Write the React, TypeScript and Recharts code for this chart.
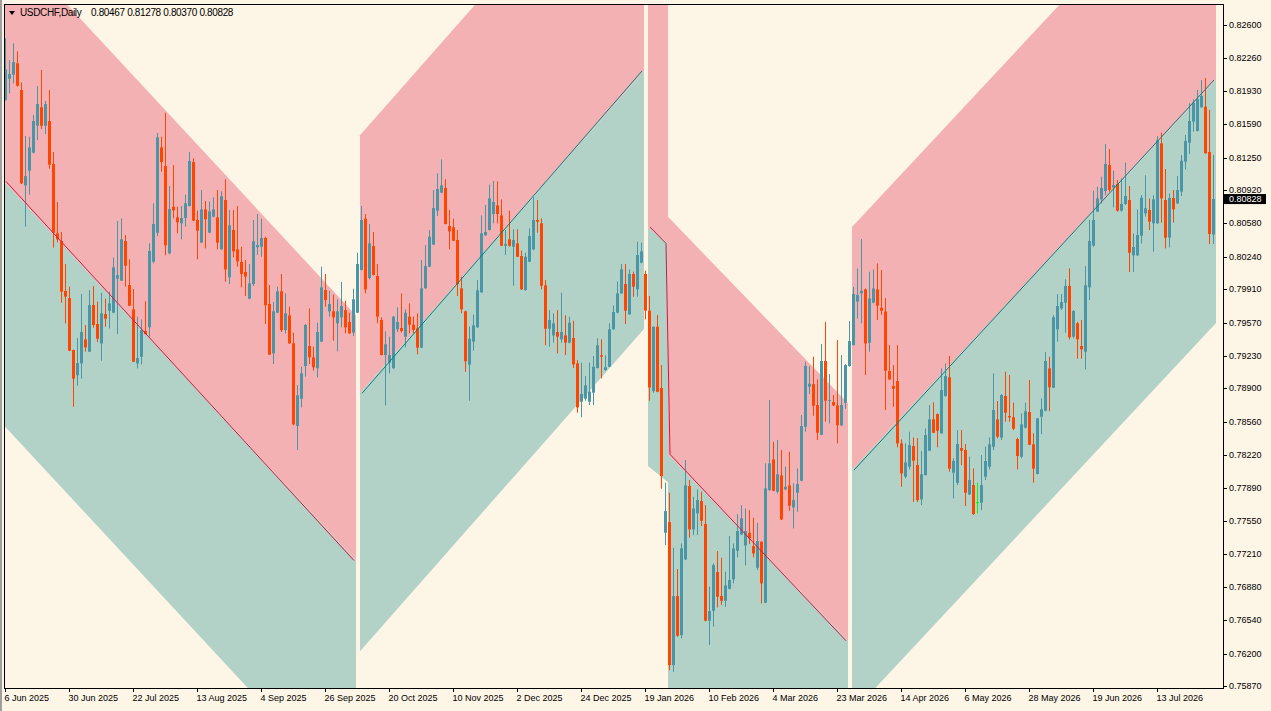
import React from 'react';
import { ComposedChart, XAxis, YAxis, Bar, Area, Line } from 'recharts';

// ---------------- data ----------------
// Daily USDCHF bars, bar 0 = 6 Jun 2025 (left edge), bar 302 = last bar
const OPEN = [
  0.81836, 0.82053, 0.82094, 0.8221, 0.81938, 0.80967, 0.81117, 0.813, 0.81575, 0.81762,
  0.81575, 0.81622, 0.81185, 0.80479, 0.80401, 0.79892, 0.7982, 0.79291, 0.79033, 0.79155,
  0.79399, 0.79274, 0.79749, 0.79556, 0.79359, 0.79657, 0.79691, 0.79671, 0.80017, 0.79997,
  0.80401, 0.79953, 0.79705, 0.79155, 0.79223, 0.79484, 0.79522, 0.8019, 0.80485, 0.81354,
  0.81164, 0.80275, 0.8075, 0.80642, 0.80581, 0.80635, 0.80757, 0.81205, 0.80615, 0.80384,
  0.80723, 0.80486, 0.80649, 0.80642, 0.80316, 0.80818, 0.80031, 0.80513, 0.80316, 0.80187,
  0.80085, 0.79814, 0.79963, 0.80337, 0.80343, 0.80432, 0.7976, 0.79257, 0.79671, 0.79889,
  0.79495, 0.79644, 0.79359, 0.78517, 0.78796, 0.79128, 0.79332, 0.79217, 0.79105, 0.79376,
  0.79902, 0.79685, 0.79685, 0.79563, 0.79624, 0.79698, 0.79576, 0.79468, 0.79671, 0.80106,
  0.80628, 0.80024, 0.8035, 0.80045, 0.79597, 0.7924, 0.79162, 0.79105, 0.79502, 0.79515,
  0.79427, 0.79631, 0.79549, 0.79512, 0.79315, 0.79919, 0.8014, 0.80364, 0.8071, 0.80893,
  0.80941, 0.80554, 0.8054, 0.80411, 0.79919, 0.79685, 0.79142, 0.79376, 0.79522, 0.79878,
  0.80459, 0.80513, 0.80676, 0.80764, 0.80662, 0.80353, 0.80418, 0.80343, 0.80377, 0.80248,
  0.79902, 0.8019, 0.80316, 0.80615, 0.80581, 0.7995, 0.79508, 0.7944, 0.79474, 0.794,
  0.7944, 0.79366, 0.79413, 0.79155, 0.78765, 0.78796, 0.78765, 0.78857, 0.79108, 0.79237,
  0.79088, 0.79121, 0.79502, 0.79671, 0.79868, 0.79963, 0.79654, 0.80065, 0.79909, 0.8018,
  0.80065, 0.79691, 0.78873, 0.79528, 0.78904, 0.77431, 0.77539, 0.76083, 0.76786, 0.76389,
  0.77159, 0.77906, 0.77465, 0.77628, 0.77753, 0.77519, 0.76535, 0.76636, 0.7703, 0.76786,
  0.76738, 0.7686, 0.76955, 0.77247, 0.77414, 0.77302, 0.77431, 0.77295, 0.77074, 0.77339,
  0.76718, 0.77865, 0.78177, 0.77848, 0.78014, 0.77872, 0.77913, 0.77689, 0.77838, 0.7796,
  0.7851, 0.78917, 0.78944, 0.78731, 0.78428, 0.79179, 0.78775, 0.78761, 0.78727, 0.78524,
  0.78754, 0.79128, 0.79341, 0.79783, 0.79868, 0.79908, 0.79365, 0.79773, 0.79908, 0.79722,
  0.79684, 0.79077, 0.78924, 0.78975, 0.7834, 0.78001, 0.78103, 0.78313, 0.7812, 0.7777,
  0.78018, 0.78266, 0.78585, 0.78639, 0.78443, 0.78823, 0.79013, 0.78042, 0.7794, 0.78293,
  0.78273, 0.77821, 0.77916, 0.77737, 0.77737, 0.78001, 0.78103, 0.78307, 0.78585, 0.78399,
  0.78823, 0.78619, 0.78605, 0.78385, 0.78205, 0.785, 0.7866, 0.78331, 0.78029, 0.78612,
  0.78673, 0.79104, 0.78907, 0.79502, 0.79715, 0.79773, 0.79943, 0.79427, 0.79563, 0.79332,
  0.79274, 0.79929, 0.80353, 0.807, 0.80825, 0.8091, 0.81175, 0.80947, 0.80981, 0.8071,
  0.80778, 0.80818, 0.80255, 0.80255, 0.80455, 0.80683, 0.80717, 0.80581, 0.80581, 0.81395,
  0.80818, 0.80435, 0.80839, 0.80784, 0.80903, 0.81209, 0.81402, 0.81616, 0.81521, 0.81762,
  0.81769, 0.81307, 0.80467,
];
const HIGH = [
  0.82464, 0.82243, 0.82413, 0.82332, 0.82016, 0.8147, 0.81463, 0.81684, 0.81979, 0.82142,
  0.81826, 0.81938, 0.81307, 0.80798, 0.80492, 0.80166, 0.79936, 0.79295, 0.79413, 0.79861,
  0.79545, 0.79902, 0.79942, 0.79783, 0.79875, 0.79813, 0.79885, 0.80234, 0.80604, 0.80631,
  0.80462, 0.80214, 0.79912, 0.7963, 0.79603, 0.7979, 0.80377, 0.80784, 0.815, 0.81463,
  0.81707, 0.80961, 0.81174, 0.8075, 0.80757, 0.80873, 0.81307, 0.81243, 0.8071, 0.8092,
  0.80808, 0.80805, 0.80846, 0.8092, 0.80907, 0.81029, 0.80717, 0.80717, 0.80757, 0.80343,
  0.80207, 0.80167, 0.80615, 0.80676, 0.80628, 0.80445, 0.79953, 0.7978, 0.79936, 0.80065,
  0.79868, 0.79732, 0.79468, 0.78935, 0.79121, 0.79556, 0.79715, 0.79325, 0.79569, 0.8014,
  0.80065, 0.79895, 0.79855, 0.79807, 0.79984, 0.79793, 0.79671, 0.79916, 0.80282, 0.80757,
  0.80676, 0.80574, 0.80493, 0.80167, 0.79624, 0.79481, 0.79427, 0.79637, 0.79726, 0.79868,
  0.79705, 0.79766, 0.79631, 0.79665, 0.80207, 0.8036, 0.80513, 0.8092, 0.8109, 0.81232,
  0.81029, 0.80717, 0.80628, 0.80513, 0.80038, 0.79692, 0.79529, 0.79651, 0.80004, 0.80662,
  0.80768, 0.80975, 0.81012, 0.81009, 0.80825, 0.80513, 0.8071, 0.8052, 0.8052, 0.80303,
  0.80282, 0.8053, 0.80846, 0.80818, 0.80632, 0.80004, 0.79698, 0.79665, 0.79698, 0.79875,
  0.79644, 0.79631, 0.7959, 0.79189, 0.79162, 0.79026, 0.79162, 0.7923, 0.7941, 0.794,
  0.79237, 0.79563, 0.79746, 0.7999, 0.80167, 0.80167, 0.80112, 0.80089, 0.80394, 0.80384,
  0.80099, 0.7984, 0.79532, 0.79647, 0.79138, 0.7794, 0.77838, 0.77278, 0.77061, 0.77322,
  0.78171, 0.77967, 0.77797, 0.77872, 0.77848, 0.77712, 0.76881, 0.77118, 0.77244, 0.77176,
  0.77034, 0.77397, 0.77322, 0.77621, 0.77712, 0.77678, 0.77661, 0.77583, 0.77532, 0.77343,
  0.78137, 0.78781, 0.78357, 0.78374, 0.78272, 0.78103, 0.78255, 0.77933, 0.78086, 0.78629,
  0.79172, 0.79128, 0.79223, 0.78992, 0.79352, 0.79579, 0.79046, 0.78832, 0.79392, 0.7924,
  0.79148, 0.79586, 0.79935, 0.80122, 0.80421, 0.79918, 0.80088, 0.80112, 0.80173, 0.80105,
  0.7982, 0.79341, 0.79138, 0.79341, 0.78381, 0.7834, 0.78459, 0.78401, 0.78395, 0.78262,
  0.78493, 0.78731, 0.78758, 0.78646, 0.79104, 0.79155, 0.7923, 0.78188, 0.78476, 0.78476,
  0.78334, 0.78205, 0.78086, 0.7794, 0.78222, 0.78307, 0.78402, 0.79054, 0.78772, 0.78843,
  0.7907, 0.79036, 0.78755, 0.78399, 0.78646, 0.78755, 0.78986, 0.78443, 0.78599, 0.78799,
  0.79271, 0.79223, 0.79647, 0.79861, 0.79861, 0.80011, 0.80123, 0.79698, 0.79576, 0.79597,
  0.80146, 0.80615, 0.80913, 0.80954, 0.81056, 0.81389, 0.81338, 0.81117, 0.81022, 0.81039,
  0.81199, 0.80961, 0.80479, 0.80723, 0.80869, 0.8107, 0.80835, 0.80869, 0.8147, 0.81504,
  0.81134, 0.80886, 0.8092, 0.81063, 0.81277, 0.8148, 0.81803, 0.81843, 0.81938, 0.8204,
  0.82061, 0.81735, 0.81278,
];
const LOW = [
  0.8183, 0.81904, 0.82006, 0.81972, 0.80981, 0.80547, 0.80872, 0.81293, 0.81429, 0.81541,
  0.8149, 0.81137, 0.80333, 0.80387, 0.79773, 0.79562, 0.7928, 0.78714, 0.78928, 0.78999,
  0.79274, 0.7927, 0.79518, 0.79372, 0.79182, 0.79528, 0.79511, 0.79667, 0.79454, 0.79993,
  0.79936, 0.79738, 0.79168, 0.79104, 0.79145, 0.7945, 0.79427, 0.80173, 0.80452, 0.81107,
  0.80255, 0.80265, 0.80631, 0.80479, 0.80418, 0.80547, 0.80753, 0.80604, 0.80214, 0.8038,
  0.80326, 0.80482, 0.80642, 0.80316, 0.80312, 0.79987, 0.79963, 0.80235, 0.8014, 0.79929,
  0.79841, 0.79807, 0.79943, 0.80258, 0.80241, 0.79556, 0.7924, 0.79149, 0.79665, 0.79474,
  0.79461, 0.79355, 0.78524, 0.78273, 0.78707, 0.7902, 0.79149, 0.79081, 0.79013, 0.79372,
  0.79732, 0.79631, 0.79386, 0.79278, 0.79522, 0.79461, 0.79457, 0.79434, 0.79667, 0.80102,
  0.79868, 0.80011, 0.80051, 0.79563, 0.79236, 0.78728, 0.79054, 0.79101, 0.79474, 0.7947,
  0.79318, 0.79461, 0.79461, 0.79247, 0.79311, 0.79915, 0.80136, 0.8036, 0.80655, 0.80889,
  0.8057, 0.80316, 0.804, 0.79841, 0.79665, 0.7907, 0.78775, 0.79284, 0.79518, 0.79874,
  0.80455, 0.80509, 0.80581, 0.80581, 0.80349, 0.80258, 0.80343, 0.79946, 0.80237, 0.79902,
  0.79895, 0.80186, 0.80309, 0.80486, 0.79909, 0.79339, 0.79325, 0.79366, 0.79257, 0.79366,
  0.7924, 0.79359, 0.79108, 0.78653, 0.78606, 0.78775, 0.78731, 0.78731, 0.79104, 0.79003,
  0.79081, 0.79117, 0.79498, 0.79665, 0.79864, 0.79556, 0.7965, 0.79834, 0.79834, 0.80174,
  0.79603, 0.78775, 0.78856, 0.78862, 0.77879, 0.77305, 0.76032, 0.76015, 0.76372, 0.76355,
  0.77152, 0.7738, 0.77407, 0.77407, 0.77499, 0.7653, 0.76287, 0.76474, 0.7667, 0.76694,
  0.76677, 0.76854, 0.76915, 0.7718, 0.77407, 0.77098, 0.77315, 0.7718, 0.77051, 0.76711,
  0.76714, 0.77858, 0.77854, 0.77831, 0.7756, 0.77865, 0.77655, 0.77475, 0.77644, 0.77956,
  0.78459, 0.78843, 0.78622, 0.78374, 0.78424, 0.78561, 0.78544, 0.7872, 0.7834, 0.78517,
  0.78693, 0.79121, 0.79337, 0.7961, 0.79562, 0.79036, 0.79274, 0.79766, 0.79596, 0.79647,
  0.7868, 0.78988, 0.78714, 0.783, 0.77899, 0.77984, 0.78076, 0.77746, 0.77743, 0.77712,
  0.78014, 0.78262, 0.78445, 0.783, 0.78439, 0.78816, 0.78052, 0.77781, 0.77916, 0.7812,
  0.77703, 0.77815, 0.77611, 0.77628, 0.77662, 0.77967, 0.78076, 0.78273, 0.78392, 0.78375,
  0.78561, 0.78561, 0.78476, 0.78076, 0.78188, 0.78493, 0.78323, 0.7794, 0.78025, 0.78436,
  0.78669, 0.78669, 0.78903, 0.79376, 0.79698, 0.79468, 0.794, 0.7941, 0.79203, 0.79203,
  0.79094, 0.798, 0.80343, 0.80696, 0.80784, 0.80869, 0.80903, 0.80744, 0.807, 0.807,
  0.80767, 0.80085, 0.80085, 0.80251, 0.80374, 0.80649, 0.80513, 0.80292, 0.80577, 0.80588,
  0.80326, 0.80336, 0.80588, 0.80778, 0.80859, 0.81131, 0.81287, 0.81514, 0.81517, 0.81758,
  0.8129, 0.8037, 0.8037,
];
const CLOSE = [
  0.82149, 0.82101, 0.82223, 0.81982, 0.80988, 0.81062, 0.81354, 0.81622, 0.81795, 0.81575,
  0.81795, 0.81178, 0.80485, 0.80418, 0.79885, 0.79834, 0.79284, 0.78999, 0.79158, 0.79474,
  0.79318, 0.79749, 0.79545, 0.79406, 0.79664, 0.7961, 0.79766, 0.80133, 0.80054, 0.80418,
  0.80149, 0.79742, 0.79172, 0.79209, 0.79494, 0.79454, 0.80299, 0.80574, 0.81456, 0.81205,
  0.80357, 0.80726, 0.80713, 0.80591, 0.80635, 0.80785, 0.81216, 0.80608, 0.80506, 0.80723,
  0.80622, 0.80703, 0.80723, 0.80384, 0.80856, 0.80112, 0.8056, 0.80296, 0.80194, 0.80065,
  0.80038, 0.7997, 0.80398, 0.8036, 0.80432, 0.79746, 0.79244, 0.79685, 0.79889, 0.79495,
  0.79665, 0.79359, 0.78534, 0.7883, 0.79054, 0.79546, 0.79217, 0.79115, 0.79474, 0.79929,
  0.798, 0.7976, 0.79624, 0.79685, 0.79739, 0.79522, 0.79461, 0.79807, 0.80167, 0.80615,
  0.79909, 0.80377, 0.80055, 0.79631, 0.7924, 0.79349, 0.7924, 0.79631, 0.79576, 0.79485,
  0.79671, 0.79549, 0.79495, 0.79315, 0.79919, 0.80146, 0.80445, 0.80737, 0.8093, 0.80968,
  0.80574, 0.80499, 0.80404, 0.79963, 0.79705, 0.79176, 0.79406, 0.79542, 0.79899, 0.80479,
  0.80493, 0.80835, 0.80798, 0.80676, 0.80353, 0.8037, 0.80353, 0.80411, 0.80241, 0.79909,
  0.80241, 0.80452, 0.80615, 0.80598, 0.79946, 0.79508, 0.79597, 0.79563, 0.79427, 0.79474,
  0.79366, 0.79569, 0.79145, 0.78707, 0.78843, 0.78931, 0.78867, 0.79121, 0.79339, 0.79223,
  0.79115, 0.79502, 0.79678, 0.79868, 0.80112, 0.79692, 0.80065, 0.79936, 0.80258, 0.80296,
  0.79692, 0.7891, 0.79528, 0.78866, 0.78008, 0.77651, 0.76083, 0.76786, 0.76382, 0.77271,
  0.77913, 0.77465, 0.77678, 0.77763, 0.77553, 0.76535, 0.76633, 0.77101, 0.76779, 0.76738,
  0.76894, 0.76949, 0.77271, 0.77448, 0.77577, 0.77448, 0.77373, 0.7722, 0.77346, 0.76915,
  0.77882, 0.78137, 0.77858, 0.78025, 0.77566, 0.77899, 0.77706, 0.77763, 0.77926, 0.78517,
  0.79128, 0.78948, 0.78724, 0.78449, 0.79179, 0.78775, 0.78782, 0.78727, 0.78524, 0.78731,
  0.79138, 0.79382, 0.79861, 0.79851, 0.79895, 0.79358, 0.79817, 0.79918, 0.79742, 0.79691,
  0.7908, 0.78992, 0.78897, 0.7834, 0.78035, 0.78147, 0.78323, 0.78164, 0.77763, 0.78025,
  0.78425, 0.78585, 0.78449, 0.78469, 0.78884, 0.79026, 0.78083, 0.78161, 0.78334, 0.78266,
  0.77838, 0.77967, 0.77621, 0.77737, 0.77916, 0.78161, 0.78331, 0.7868, 0.78409, 0.78833,
  0.78653, 0.78605, 0.7849, 0.78212, 0.78534, 0.78667, 0.78327, 0.78083, 0.78595, 0.78687,
  0.79179, 0.78911, 0.79624, 0.79739, 0.7978, 0.79943, 0.7942, 0.79688, 0.794, 0.79298,
  0.7995, 0.80401, 0.80615, 0.80835, 0.80941, 0.81185, 0.8092, 0.80971, 0.8071, 0.80778,
  0.80859, 0.80282, 0.8034, 0.80462, 0.80842, 0.80734, 0.80598, 0.80825, 0.81426, 0.80835,
  0.80435, 0.80839, 0.80723, 0.8092, 0.81219, 0.81419, 0.81623, 0.81809, 0.81847, 0.81877,
  0.81294, 0.80472, 0.80828,
];

// number of bar slots visible in the window (2 empty slots on the right)
const BAR_SLOTS = 305;

// time axis labels (one every 16 bars)
const DATE_TICK_BARS = [0, 16, 32, 48, 64, 80, 96, 112, 128, 144, 160, 176, 192, 208, 224, 240, 256, 272, 288];
const DATE_LABELS = [
  '6 Jun 2025', '30 Jun 2025', '22 Jul 2025', '13 Aug 2025', '4 Sep 2025', '26 Sep 2025',
  '20 Oct 2025', '10 Nov 2025', '2 Dec 2025', '24 Dec 2025', '19 Jan 2026', '10 Feb 2026',
  '4 Mar 2026', '23 Mar 2026', '14 Apr 2026', '6 May 2026', '28 May 2026', '19 Jun 2026', '13 Jul 2026',
];

// price axis labels
const PRICE_TICKS = [
  0.826, 0.8226, 0.8193, 0.8159, 0.8125, 0.8092, 0.8058, 0.8024, 0.7991, 0.7957, 0.7923,
  0.789, 0.7856, 0.7822, 0.7789, 0.7755, 0.7721, 0.7688, 0.7654, 0.762, 0.7587,
];
const PRICE_MIN = 0.7585;
const PRICE_MAX = 0.82814;

// channel indicator: [start bar, end bar] pairs, mid-line price at those bars, band widths
const CHANNEL_BARS = [[0, 87], [89, 159], [161, 165, 166, 210], [212, 302]];
const CHANNEL_MID = [
  [0.81007, 0.77148],
  [0.7885, 0.82132],
  [0.80543, 0.80377, 0.78229, 0.76331],
  [0.78069, 0.8204],
];
const CHANNEL_UPPER_WIDTH = [
  [0.02494, 0.02494],
  [0.02627, 0.02627],
  [0.02433, 0.02433, 0.02418, 0.02418],
  [0.02474, 0.02474],
];
const CHANNEL_LOWER_WIDTH = [
  [0.02484, 0.02484],
  [0.02627, 0.02627],
  [0.02433, 0.02433, 0.02418, 0.02418],
  [0.02474, 0.02474],
];

// ---------------- styles ----------------
const BG = '#FDF5E6';
const PINK = '#F4B1B4';
const TEAL_BAND = '#B2D1C7';
const UP = '#4A96A6';
const DOWN = '#FF4500';
const DOJI = '#00FF00';
const LINE_COLORS = ['#DC143C', '#008080', '#DC143C', '#008080'];
const FONT = "'Liberation Sans', Arial, sans-serif";

// ---------------- tables for the library ----------------
const rows = Array.from({ length: BAR_SLOTS }, (_, i) => ({
  i,
  o: OPEN[i],
  h: HIGH[i],
  l: LOW[i],
  c: CLOSE[i],
}));

// each bar of the channel histogram covers [bar-0.5, bar+0.5]
const bandRows = (k: number, side: 'up' | 'dn') =>
  CHANNEL_BARS[k].map((b, j) => {
    const m = CHANNEL_MID[k][j];
    return {
      x: j % 2 === 0 ? b - 0.5 : b + 0.5,
      v: side === 'up' ? [m, m + CHANNEL_UPPER_WIDTH[k][j]] : [m - CHANNEL_LOWER_WIDTH[k][j], m],
    };
  });
const midRows = (k: number) => CHANNEL_BARS[k].map((b, j) => ({ x: b, v: CHANNEL_MID[k][j] }));

const LAST = CLOSE.length - 1;
const LAST_CLOSE = CLOSE[LAST];

const Candle = (props: any) => {
  const { x, y, height, payload } = props;
  if (!payload || payload.h == null) return null;
  const top = Math.min(y, y + height);
  const h = Math.abs(height);
  const range = payload.h - payload.l || 1;
  const py = (p: number) => top + ((payload.h - p) / range) * h;
  const yo = py(payload.o);
  const yc = py(payload.c);
  const doji = payload.o === payload.c;
  const color = doji ? DOJI : payload.c > payload.o ? UP : DOWN;
  const bx = Math.round(x);
  const bTop = Math.min(yo, yc);
  const bH = Math.max(1, Math.abs(yc - yo));
  return (
    <g>
      <rect x={bx + 1} y={top} width={1} height={Math.max(1, h)} fill={color} />
      {doji ? (
        <rect x={bx} y={yo - 0.5} width={3} height={1} fill={color} />
      ) : (
        <rect x={bx} y={bTop} width={3} height={bH} fill={color} />
      )}
    </g>
  );
};

const DateTick = (props: any) => {
  const { x, y, payload } = props;
  const idx = DATE_TICK_BARS.indexOf(payload.value);
  const tx = Math.round(x) - 0.5;
  return (
    <g>
      <line x1={tx} x2={tx} y1={y} y2={y + 4} stroke="#000" strokeWidth={1} />
      <text x={tx - 1} y={y + 13} fontSize={9} fontFamily={FONT} fill="#000">
        {DATE_LABELS[idx]}
      </text>
    </g>
  );
};

const PriceTick = (props: any) => {
  const { x, y, payload } = props;
  const v = payload.value as number;
  if (v === LAST_CLOSE) {
    return (
      <g>
        <rect x={x} y={y - 5} width={42} height={10} fill="#000" />
        <text x={x + 5} y={y} dominantBaseline="central" fontSize={9} fontFamily={FONT} fill="#fff">
          {v.toFixed(5)}
        </text>
      </g>
    );
  }
  const ty = Math.round(y) + 0.5;
  return (
    <g>
      <line x1={x} x2={x + 3} y1={ty} y2={ty} stroke="#000" strokeWidth={1} />
      <text x={x + 5} y={y} dominantBaseline="central" fontSize={9} fontFamily={FONT} fill="#000">
        {v.toFixed(5)}
      </text>
    </g>
  );
};

export default function App() {
  const header = [OPEN[LAST], HIGH[LAST], LOW[LAST], CLOSE[LAST]].map((v) => v.toFixed(5)).join(' ');
  const headerText: React.CSSProperties = {
    position: 'absolute',
    top: 7,
    fontSize: 10,
    lineHeight: '11px',
    letterSpacing: '-0.35px',
    color: '#000',
    whiteSpace: 'nowrap',
  };
  return (
    <div
      style={{
        position: 'absolute',
        left: 0,
        top: 0,
        width: 1271,
        height: 711,
        background: BG,
        overflow: 'hidden',
        fontFamily: FONT,
      }}
    >
      <ComposedChart
        width={1271}
        height={711}
        data={rows}
        margin={{ top: 4, right: 0, bottom: 0, left: 4 }}
        barCategoryGap={0}
        barGap={0}
      >
        <XAxis
          xAxisId="bars"
          dataKey="i"
          type="category"
          ticks={DATE_TICK_BARS}
          interval={0}
          tick={<DateTick />}
          tickLine={false}
          axisLine={false}
          tickSize={0}
          tickMargin={0}
          height={23}
        />
        <XAxis
          xAxisId="chan"
          dataKey="x"
          type="number"
          domain={[-0.5, BAR_SLOTS - 0.5]}
          allowDataOverflow
          hide
        />
        <YAxis
          orientation="right"
          type="number"
          domain={[PRICE_MIN, PRICE_MAX]}
          allowDataOverflow
          ticks={[...PRICE_TICKS, LAST_CLOSE]}
          interval={0}
          tick={<PriceTick />}
          tickLine={false}
          axisLine={false}
          tickSize={0}
          tickMargin={0}
          width={47}
        />
        {CHANNEL_BARS.map((_, k) => (
          <Area
            key={'up' + k}
            xAxisId="chan"
            data={bandRows(k, 'up')}
            dataKey="v"
            type="linear"
            stroke="none"
            fill={PINK}
            fillOpacity={1}
            dot={false}
            activeDot={false}
            isAnimationActive={false}
          />
        ))}
        {CHANNEL_BARS.map((_, k) => (
          <Area
            key={'dn' + k}
            xAxisId="chan"
            data={bandRows(k, 'dn')}
            dataKey="v"
            type="linear"
            stroke="none"
            fill={TEAL_BAND}
            fillOpacity={1}
            dot={false}
            activeDot={false}
            isAnimationActive={false}
          />
        ))}
        {CHANNEL_BARS.map((_, k) => (
          <Line
            key={'mid' + k}
            xAxisId="chan"
            data={midRows(k)}
            dataKey="v"
            type="linear"
            stroke={LINE_COLORS[k]}
            strokeWidth={1}
            dot={false}
            activeDot={false}
            isAnimationActive={false}
          />
        ))}
        <Bar
          xAxisId="bars"
          dataKey={(d: any) => (d.h == null ? null : [d.l, d.h])}
          shape={<Candle />}
          isAnimationActive={false}
        />
      </ComposedChart>
      {/* chart frame */}
      <div
        style={{
          position: 'absolute',
          left: 4,
          top: 4,
          width: 1220,
          height: 685,
          border: '1px solid #000',
          boxSizing: 'border-box',
          pointerEvents: 'none',
        }}
      />
      <div style={{ position: 'absolute', left: 0, top: 0, width: 2, height: 711, background: '#A0A0A0' }} />
      {/* header */}
      <div
        style={{
          position: 'absolute',
          left: 9,
          top: 11,
          width: 0,
          height: 0,
          borderLeft: '3px solid transparent',
          borderRight: '3px solid transparent',
          borderTop: '4px solid #000',
        }}
      />
      <div style={{ ...headerText, left: 20 }}>USDCHF,Daily</div>
      <div style={{ ...headerText, left: 91 }}>{header}</div>
    </div>
  );
}
